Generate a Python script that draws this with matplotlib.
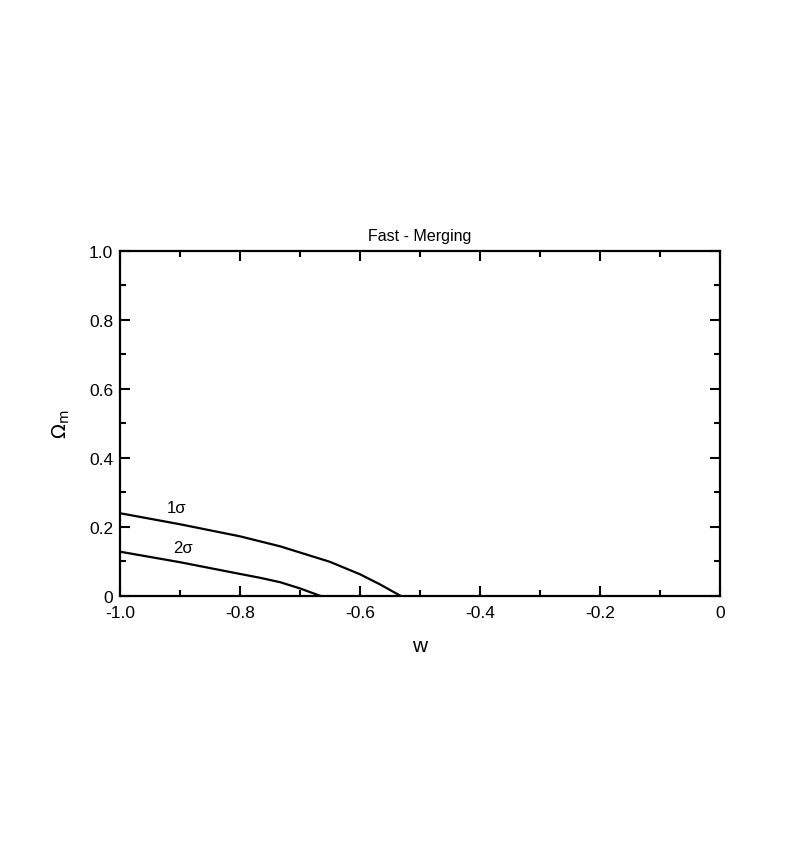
"""Fast-merging constraint contours in the (w, Omega_m) plane."""

from matplotlib import pyplot
from matplotlib.ticker import MultipleLocator

# Contours.
w_1sigma = [-1.0, -0.9, -0.8, -0.733, -0.65, -0.6, -0.567, -0.533]
om_1sigma = [0.239, 0.207, 0.172, 0.143, 0.098, 0.062, 0.033, 0.0]
w_2sigma = [-1.0, -0.9, -0.8, -0.767, -0.733, -0.7, -0.667]
om_2sigma = [0.1275, 0.097, 0.063, 0.052, 0.039, 0.021, 0.0]

xticks = [-1.0, -0.8, -0.6, -0.4, -0.2, 0.0]
xticklabels = ['-1.0', '-0.8', '-0.6', '-0.4', '-0.2', '0']
yticks = [0.0, 0.2, 0.4, 0.6, 0.8, 1.0]
yticklabels = ['0', '0.2', '0.4', '0.6', '0.8', '1.0']

pyplot.rc('font', family='Liberation Sans', size=12.5)
fig = pyplot.figure(figsize=(7.97, 8.62), dpi=100)
ax = fig.add_axes([0.1506, 0.3078, 0.7528, 0.4002])

ax.plot(w_1sigma, om_1sigma, color='black', linewidth=1.6)
ax.plot(w_2sigma, om_2sigma, color='black', linewidth=1.6)
ax.text(-0.905, 0.255, '1\u03c3', ha='center', va='center', fontsize=12)
ax.text(-0.895, 0.141, '2\u03c3', ha='center', va='center', fontsize=12)

ax.set_xlim(-1.0, 0.0)
ax.set_ylim(0.0, 1.0)
ax.set_xticks(xticks)
ax.set_xticklabels(xticklabels)
ax.set_yticks(yticks)
ax.set_yticklabels(yticklabels)
ax.xaxis.set_minor_locator(MultipleLocator(0.1))
ax.yaxis.set_minor_locator(MultipleLocator(0.1))
ax.tick_params(which='both', direction='in', top=True, right=True,
               width=1.5)
ax.tick_params(axis='x', which='both', pad=7)
ax.tick_params(axis='y', which='both', pad=5)
ax.tick_params(which='major', length=7)
ax.tick_params(which='minor', length=4.5)
for spine in ax.spines.values():
    spine.set_linewidth(1.6)
# Lift the lowest y label a touch so it clears the first x label.
ax.get_yticklabels()[0].set_verticalalignment('center_baseline')

ax.set_title('Fast - Merging', fontsize=11.5, pad=8)
ax.set_xlabel('w', fontsize=15, labelpad=11)
ax.set_ylabel(r'$\Omega_{\rm m}$', fontsize=14, labelpad=12)

fig.savefig('out.png', dpi=100)
